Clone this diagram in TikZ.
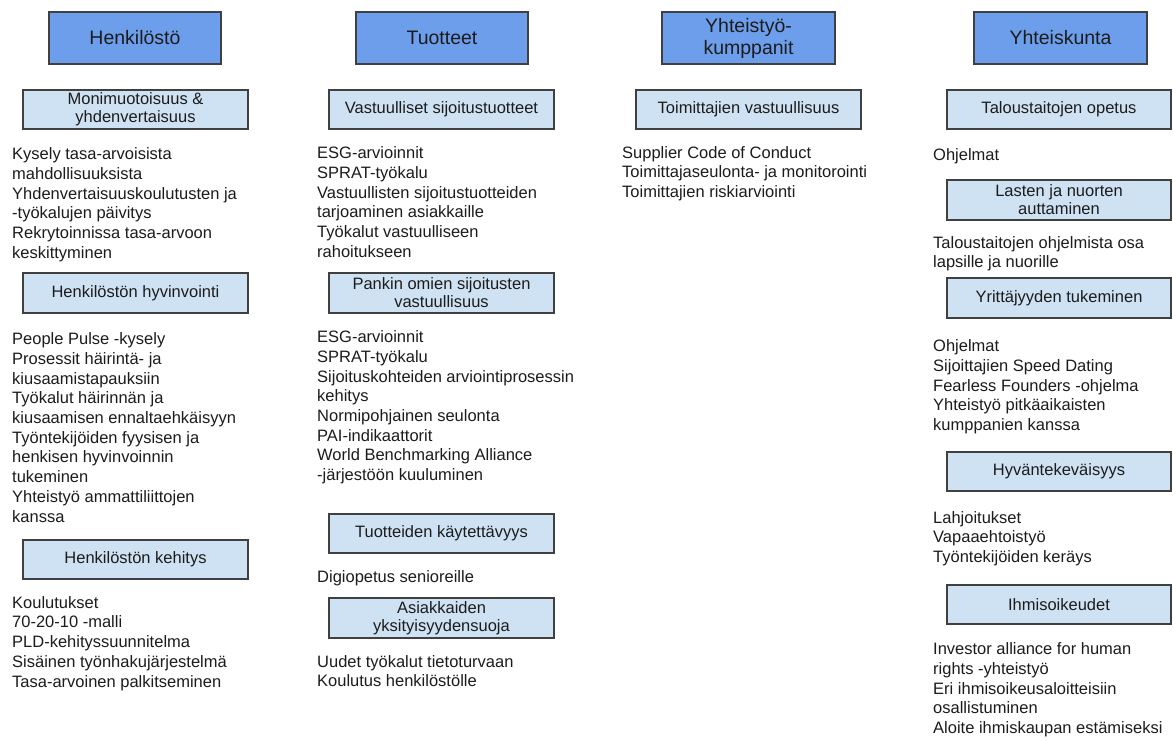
\documentclass[tikz,border=0pt]{standalone}
\usepackage{fontspec}
\setmainfont{Liberation Sans}
\definecolor{catfill}{HTML}{6D9EEB}
\definecolor{subfill}{HTML}{CFE2F3}
\definecolor{edge}{HTML}{404040}
\definecolor{ink}{HTML}{1C1C1C}
\tikzset{
  catbox/.style={draw=edge, fill=catfill, line width=1.1pt, inner sep=0pt,
    minimum width=172pt, minimum height=52pt, align=center, text=ink,
    font=\fontsize{19.5}{22}\selectfont},
  subbox/.style={draw=edge, fill=subfill, line width=1.1pt, inner sep=0pt,
    minimum width=225pt, minimum height=39pt, align=center, text=ink,
    font=\fontsize{16.5}{18}\selectfont},
  items/.style={anchor=north west, inner sep=0pt, align=left, text=ink,
    font=\fontsize{16.5}{19.7}\selectfont}
}
\begin{document}
\begin{tikzpicture}[x=1pt, y=-1pt]
\useasboundingbox[fill=white] (0,0) rectangle (1173,740);

% ---- Henkilöstö ----
\node[catbox] (henk) at (135,38) {Henkilöstö};
\node[subbox] (moni) at (135.5,109.5) {Monimuotoisuus \&\\yhdenvertaisuus};
\node[items] (moniL) at (12,145.7) {\strut Kysely tasa-arvoisista\\mahdollisuuksista\\Yhdenvertaisuuskoulutusten ja\\-työkalujen päivitys\\Rekrytoinnissa tasa-arvoon\\keskittyminen};
\node[subbox, minimum height=40pt] (hyv) at (135.5,293) {Henkilöstön hyvinvointi};
\node[items] (hyvL) at (12,330.7) {\strut People Pulse -kysely\\Prosessit häirintä- ja\\kiusaamistapauksiin\\Työkalut häirinnän ja\\kiusaamisen ennaltaehkäisyyn\\Työntekijöiden fyysisen ja\\henkisen hyvinvoinnin\\tukeminen\\Yhteistyö ammattiliittojen\\kanssa};
\node[subbox] (keh) at (135.5,559.5) {Henkilöstön kehitys};
\node[items] (kehL) at (12,594.2) {\strut Koulutukset\\70-20-10 -malli\\PLD-kehityssuunnitelma\\Sisäinen työnhakujärjestelmä\\Tasa-arvoinen palkitseminen};

% ---- Tuotteet ----
\node[catbox] (tuot) at (442,38) {Tuotteet};
\node[subbox] (vast) at (441.5,109.5) {Vastuulliset sijoitustuotteet};
\node[items] (vastL) at (317,144.7) {\strut ESG-arvioinnit\\SPRAT-työkalu\\Vastuullisten sijoitustuotteiden\\tarjoaminen asiakkaille\\Työkalut vastuulliseen\\rahoitukseen};
\node[subbox, minimum height=40pt] (pank) at (441.5,293) {Pankin omien sijoitusten\\vastuullisuus};
\node[items] (pankL) at (317,328.7) {\strut ESG-arvioinnit\\SPRAT-työkalu\\Sijoituskohteiden arviointiprosessin\\kehitys\\Normipohjainen seulonta\\PAI-indikaattorit\\World Benchmarking Alliance\\-järjestöön kuuluminen};
\node[subbox] (kayt) at (441.5,533.5) {Tuotteiden käytettävyys};
\node[items] (kaytL) at (317,568.2) {\strut Digiopetus senioreille};
\node[subbox, minimum height=40pt] (asia) at (441.5,618) {Asiakkaiden\\yksityisyydensuoja};
\node[items] (asiaL) at (317,653.2) {\strut Uudet työkalut tietoturvaan\\Koulutus henkilöstölle};

% ---- Yhteistyökumppanit ----
\node[catbox, minimum width=173pt] (kump) at (748.5,38) {Yhteistyö-\\kumppanit};
\node[subbox] (toim) at (748.5,109.5) {Toimittajien vastuullisuus};
\node[items] (toimL) at (622,144.2) {\strut Supplier Code of Conduct\\Toimittajaseulonta- ja monitorointi\\Toimittajien riskiarviointi};

% ---- Yhteiskunta ----
\node[catbox, minimum width=173pt] (yht) at (1060.5,38) {Yhteiskunta};
\node[subbox, minimum width=224pt] (talo) at (1059,109.5) {Taloustaitojen opetus};
\node[items] (taloL) at (933,146.2) {\strut Ohjelmat};
\node[subbox, minimum width=224pt, minimum height=40pt] (last) at (1059,200) {Lasten ja nuorten\\auttaminen};
\node[items] (lastL) at (933,234.2) {\strut Taloustaitojen ohjelmista osa\\lapsille ja nuorille};
\node[subbox, minimum width=224pt, minimum height=40pt] (yrit) at (1059,298) {Yrittäjyyden tukeminen};
\node[items] (yritL) at (933,337.7) {\strut Ohjelmat\\Sijoittajien Speed Dating\\Fearless Founders -ohjelma\\Yhteistyö pitkäaikaisten\\kumppanien kanssa};
\node[subbox, minimum width=224pt] (hyva) at (1059,471.5) {Hyväntekeväisyys};
\node[items] (hyvaL) at (933,509.2) {\strut Lahjoitukset\\Vapaaehtoistyö\\Työntekijöiden keräys};
\node[subbox, minimum width=224pt] (ihmi) at (1059,604.5) {Ihmisoikeudet};
\node[items] (ihmiL) at (933,640.7) {\strut Investor alliance for human\\rights -yhteistyö\\Eri ihmisoikeusaloitteisiin\\osallistuminen\\Aloite ihmiskaupan estämiseksi};
\end{tikzpicture}
\end{document}
